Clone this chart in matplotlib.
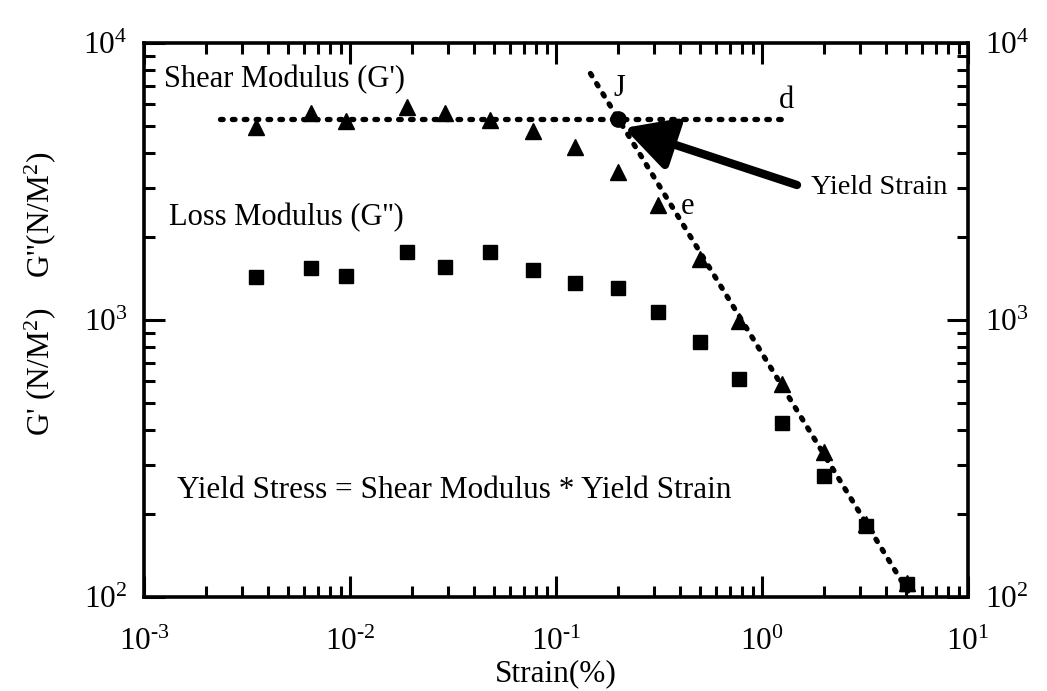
import math
import matplotlib
matplotlib.use("Agg")
import matplotlib.pyplot as plt
from matplotlib.ticker import FuncFormatter

# Strain sweep (%), storage modulus G' and loss modulus G'' (N/M^2)
strain = [0.0035, 0.0065, 0.0096, 0.019, 0.029, 0.048, 0.077, 0.123,
          0.199, 0.311, 0.50, 0.775, 1.25, 2.0, 3.21, 5.07]
g_storage = [4995, 5570, 5235, 5890, 5570, 5275, 4830, 4210,
             3430, 2595, 1660, 995, 586, 334, 184, 112]
g_loss = [1435, 1538, 1443, 1763, 1549, 1760, 1521, 1358,
          1307, 1065, 833, 614, 424, 274, 180, 111]

# Fitted plateau (d) and flow (e) lines, and their intersection J
plateau_x = [0.00233, 1.25]
plateau_y = [5300, 5300]
flow_x = [0.147, 5.1]
flow_y = [7760, 105]
yield_x = [0.2]
yield_y = [5300]

plt.rcParams['font.family'] = ['Liberation Serif', 'DejaVu Serif']
plt.rcParams['mathtext.fontset'] = 'custom'
plt.rcParams['mathtext.rm'] = 'Liberation Serif'
plt.rcParams['mathtext.it'] = 'Liberation Serif:italic'
plt.rcParams['mathtext.default'] = 'regular'

W, H = 1047, 691
FS = 22
fig = plt.figure(figsize=(W / 100, H / 100), dpi=100)


def fp(x, y):
    """Pixel position -> figure fraction."""
    return x / W, 1 - y / H


def decade(v, pos):
    e = int(round(math.log10(v)))
    # plain hyphen in the exponent, as in typewritten journal figures
    return "10$^{%s}$" % (str(e) if e >= 0 else "\u2010" + str(-e))


ax = fig.add_axes([144 / W, 1 - 597 / H, 824 / W, 554 / H])
ax.set_xscale('log')
ax.set_yscale('log')
ax.set_xlim(1e-3, 1e1)
ax.set_ylim(1e2, 1e4)
ax.xaxis.set_major_formatter(FuncFormatter(decade))
ax.yaxis.set_major_formatter(FuncFormatter(decade))

dot = dict(color='k', lw=3.8, linestyle=(0, (0.5, 1.75)), dash_capstyle='round')
ax.plot(plateau_x, plateau_y, **dot)
ax.plot(flow_x, flow_y, **dot)

ax.plot(strain, g_storage, linestyle='none', marker='^', ms=11, color='k')
ax.plot(strain, g_loss, linestyle='none', marker='s', ms=9.5, color='k')
ax.plot(yield_x, yield_y, linestyle='none', marker='o', ms=11, color='k')

for s in ax.spines.values():
    s.set_linewidth(2.6)
ax.tick_params(which='both', direction='in', top=True, right=True,
               labelright=True, width=2.2, labelsize=22.5, pad=12)
ax.tick_params(which='major', length=15)
ax.tick_params(which='minor', length=8)
ax.tick_params(axis='x', which='major', pad=22)

ax.set_xlabel('Strain(%)', fontsize=22.5, labelpad=2)

fig.text(*fp(40, 372), "G' (N/M$^2$)", rotation=90, ha='center', va='center', fontsize=22.5)
fig.text(*fp(40, 215), "G''(N/M$^2$)", rotation=90, ha='center', va='center', fontsize=22.5)

fig.text(*fp(164, 80), "Shear Modulus (G')", ha='left', va='center', fontsize=FS)
fig.text(*fp(169, 218), "Loss Modulus (G'')", ha='left', va='center', fontsize=FS)
fig.text(*fp(177, 490), "Yield Stress = Shear Modulus * Yield Strain",
         ha='left', va='center', fontsize=22.5)
fig.text(*fp(811, 188), "Yield Strain", ha='left', va='center', fontsize=20.5)
fig.text(*fp(619, 88), "J", ha='center', va='center', fontsize=FS)
fig.text(*fp(786, 100), "d", ha='center', va='center', fontsize=FS)
fig.text(*fp(687, 206), "e", ha='center', va='center', fontsize=FS)

ax.annotate('', xy=fp(624, 128), xytext=fp(797, 185),
            xycoords='figure fraction', textcoords='figure fraction',
            arrowprops=dict(arrowstyle='-|>,head_length=1.5,head_width=0.8',
                            lw=6, color='k', mutation_scale=20,
                            shrinkA=0, shrinkB=0))

fig.savefig('out.png', dpi=100)
